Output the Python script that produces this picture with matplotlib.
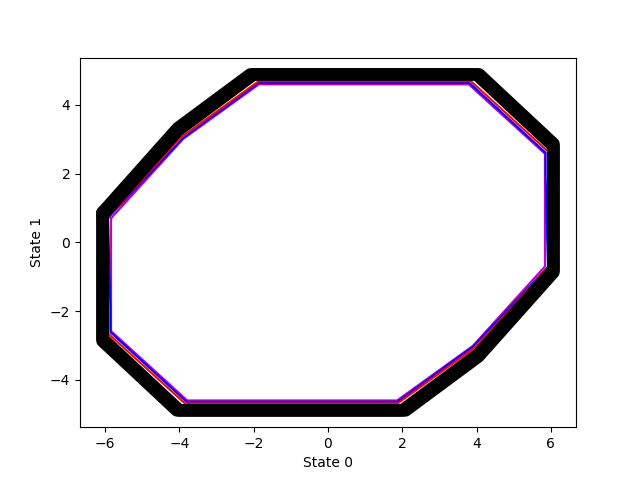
import matplotlib
matplotlib.use("Agg")
import matplotlib.pyplot as plt

# outer (black) polygon vertices
black_x = [-6.07, -4.05, -2.0, 4.0, 6.07, 6.07, 4.05, 2.0, -4.0, -6.07, -6.07]
black_y = [0.8, 3.25, 4.89, 4.89, 2.8, -0.8, -3.25, -4.89, -4.89, -2.8, 0.8]

# second black outline (wider on the diagonal edges)
black2_x = [-6.07, -4.05, -2.09, 4.07, 6.07, 6.07, 4.05, 2.09, -4.07, -6.07, -6.07]
black2_y = [0.87, 3.32, 4.89, 4.89, 2.87, -0.87, -3.32, -4.89, -4.89, -2.87, 0.87]

red_x = [-5.95, -3.97, -1.87, 3.85, 5.95, 5.95, 3.97, 1.87, -3.85, -5.95, -5.95]
red_y = [0.70, 3.05, 4.69, 4.69, 2.62, -0.70, -3.05, -4.69, -4.69, -2.62, 0.70]

blue_x = [-5.92, -3.91, -1.87, 3.81, 5.86, 5.86, 5.92, 3.91, 1.87, -3.81, -5.86, -5.86, -5.92]
blue_y = [0.71, 3.03, 4.64, 4.64, 2.61, 1.9, -0.71, -3.03, -4.64, -4.64, -2.61, -1.9, 0.71]

mag_x = [-5.84, -3.90, -1.86, 3.79, 5.84, 5.84, 3.90, 1.86, -3.79, -5.84, -5.84]
mag_y = [0.70, 3.01, 4.60, 4.60, 2.58, -0.70, -3.01, -4.60, -4.60, -2.58, 0.70]

fig, ax = plt.subplots(figsize=(6.4, 4.8), dpi=100)
ax.plot(mag_x, mag_y, color="m", lw=1.5, zorder=2)
ax.plot(blue_x, blue_y, color="b", lw=1.5, zorder=3)
ax.plot(red_x, red_y, color="r", lw=1.5, zorder=4)
ax.plot(black_x, black_y, color="k", lw=9, zorder=5,
        solid_capstyle="round", solid_joinstyle="round")
ax.plot(black2_x, black2_y, color="k", lw=9, zorder=5,
        solid_capstyle="round", solid_joinstyle="round")
ax.set_xlabel("State 0")
ax.set_ylabel("State 1")
fig.savefig("out.png")
